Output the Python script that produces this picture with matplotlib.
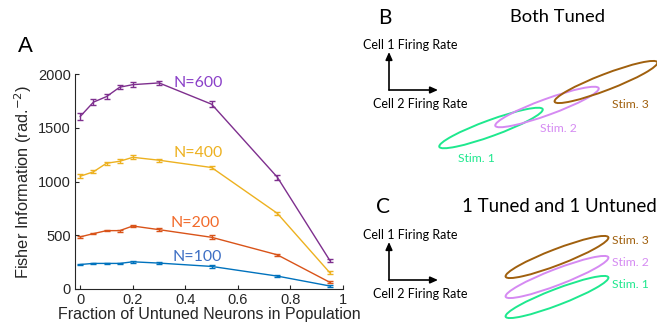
import numpy as np
import matplotlib
matplotlib.use("Agg")
import matplotlib.pyplot as plt
from matplotlib.patches import Ellipse

# fraction of untuned neurons and Fisher information per population size
frac = [0, 0.05, 0.1, 0.15, 0.2, 0.3, 0.5, 0.75, 0.95]
fi_600 = [1605, 1738, 1790, 1877, 1901, 1917, 1719, 1040, 265]
fi_400 = [1049, 1090, 1170, 1188, 1225, 1198, 1130, 704, 151]
fi_200 = [485, 515, 543, 543, 586, 552, 481, 318, 62]
fi_100 = [228, 238, 238, 238, 253, 241, 210, 120, 28]
err_600 = [30, 25, 25, 18, 25, 18, 30, 25, 18]
err_400 = [20, 15, 12, 20, 18, 15, 15, 12, 15]
err_200 = [10, 8, 8, 10, 12, 15, 20, 12, 10]
err_100 = [8, 6, 6, 6, 10, 8, 10, 8, 6]
pop_labels = ["N=600", "N=400", "N=200", "N=100"]

line_colors = ["#7E2F8E", "#EDB120", "#D95319", "#0072BD"]
text_colors = ["#8A3FC8", "#EDB120", "#F26A2A", "#3D6FC4"]
label_xy = [(0.355, 1920), (0.355, 1265), (0.345, 615), (0.35, 295)]

# covariance ellipses for the two-cell sketches (pixel space, y up)
stim_names = ["Stim. 1", "Stim. 2", "Stim. 3"]
stim_colors = ["#1EE88E", "#D58AF2", "#A0600E"]
b_centers = [(491, 205), (547, 226), (606, 251)]
b_angles = [20, 20, 21]
c_centers = [(557, 36), (557, 56), (557, 76)]
c_angles = [21, 21, 21]
b_label_xy = [(476, 175), (558, 204), (630, 229)]
c_label_xy = [(612, 49), (612, 70), (612, 93)]

W, H = 657, 333
fig = plt.figure(figsize=(W / 100, H / 100), dpi=100)
sans = ["Liberation Sans", "DejaVu Sans"]
gill = ["Lato", "DejaVu Sans"]

# panel A
ax = fig.add_axes([75 / W, 1 - 289 / H, (343 - 75) / W, (289 - 74) / H])
series = [fi_600, fi_400, fi_200, fi_100]
errs = [err_600, err_400, err_200, err_100]
for y, e, c in zip(series, errs, line_colors):
    ax.errorbar(frac, y, yerr=e, color=c, lw=1.0, elinewidth=1.0,
                capsize=2.2, capthick=1.0)
for lab, (x, y), c in zip(pop_labels, label_xy, text_colors):
    ax.text(x, y, lab, color=c, fontsize=11.4, family=gill, va="center")

ax.set_xlim(-0.02, 1)
ax.set_ylim(0, 2000)
ax.set_xticks([0, 0.2, 0.4, 0.6, 0.8, 1])
ax.set_xticklabels(["0", "0.2", "0.4", "0.6", "0.8", "1"])
ax.set_yticks([0, 500, 1000, 1500, 2000])
ax.spines["top"].set_visible(False)
ax.spines["right"].set_visible(False)
for s in ["left", "bottom"]:
    ax.spines[s].set_color("#262626")
    ax.spines[s].set_linewidth(0.8)
ax.tick_params(direction="in", length=3, width=0.8, colors="#262626",
               labelsize=10.5, pad=3)
for t in ax.get_xticklabels() + ax.get_yticklabels():
    t.set_family(sans)
ax.set_xlabel("Fraction of Untuned Neurons in Population", fontsize=11.5,
              family=sans, color="#262626", labelpad=0)
ax.set_ylabel("Fisher Information (rad.$^{-2}$)", fontsize=11.8,
              family=sans, color="#262626", labelpad=3)

# overlay for panel letters and the sketches in B and C
ov = fig.add_axes([0, 0, 1, 1])
ov.set_xlim(0, W)
ov.set_ylim(0, H)
ov.axis("off")

ov.text(18, H - 46, "A", fontsize=16, family=sans, va="center")
ov.text(378, H - 18, "B", fontsize=15, family=gill, va="center")
ov.text(376, H - 207, "C", fontsize=15, family=gill, va="center")
ov.text(558, H - 17, "Both Tuned", fontsize=13.2, family=gill,
        ha="center", va="center")
ov.text(559, H - 207, "1 Tuned and 1 Untuned", fontsize=13.4, family=gill,
        ha="center", va="center")

arrow = dict(arrowstyle="-|>,head_length=0.45,head_width=0.2", lw=1.2,
             color="black", shrinkA=0, shrinkB=0)
for y0, top_lab, bot_lab in [(90, 45, 104), (280, 235, 294)]:
    ov.annotate("", xy=(389, H - y0 + 38), xytext=(389, H - y0),
                arrowprops=arrow)
    ov.annotate("", xy=(438, H - y0), xytext=(389, H - y0),
                arrowprops=arrow)
    ov.text(363, H - top_lab, "Cell 1 Firing Rate", fontsize=9,
            family=gill, va="center")
    ov.text(373, H - bot_lab, "Cell 2 Firing Rate", fontsize=9,
            family=gill, va="center")

for centers, angles, lab_xy, ha in [(b_centers, b_angles, b_label_xy, "center"),
                                    (c_centers, c_angles, c_label_xy, "left")]:
    for (cx, cy), ang, c, name, (lx, ly) in zip(centers, angles, stim_colors,
                                                 stim_names, lab_xy):
        ov.add_patch(Ellipse((cx, cy), 110, 16, angle=ang, fill=False,
                             ec=c, lw=1.4))
        ov.text(lx, ly, name, color=c, fontsize=8.7, family=gill,
                ha=ha, va="center")

fig.savefig("out.png", dpi=100)
